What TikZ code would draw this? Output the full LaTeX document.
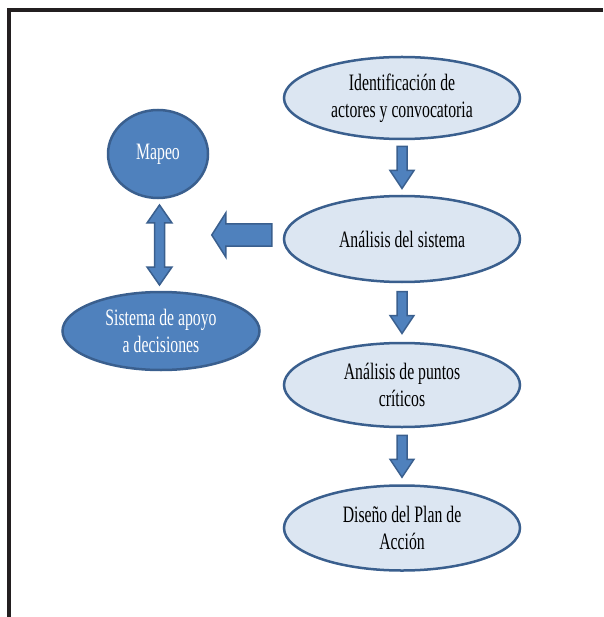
\documentclass[tikz,border=0pt]{standalone}
\usepackage{fontspec}
\setmainfont[FakeStretch=0.67]{Liberation Serif}
\usetikzlibrary{shapes.geometric,shapes.arrows,calc}
\definecolor{lightfill}{HTML}{DCE6F2}
\definecolor{edgeblue}{HTML}{3A5F8E}
\definecolor{darkfill}{HTML}{4F81BD}
\definecolor{framegray}{HTML}{231F20}
\tikzset{
  lightell/.style={ellipse, draw=edgeblue, fill=lightfill, line width=2.5pt,
    inner sep=0pt, align=center, font=\fontsize{23.5}{27}\selectfont, text=black},
  darkell/.style={ellipse, draw=edgeblue, fill=darkfill, line width=2.5pt,
    inner sep=0pt, align=center, font=\fontsize{23.5}{27}\selectfont, text=white},
  blockarrow/.style={draw=edgeblue, fill=darkfill, line width=1.5pt, line join=miter}
}
\begin{document}
\begin{tikzpicture}[x=1pt,y=-1pt]
\useasboundingbox (0,0) rectangle (603,617);
\draw[framegray, line width=4pt] (9,617) -- (9,10) -- (603,10);

\node[lightell, minimum width=236, minimum height=82] (ident) at (402,98) {Identificación de\\actores y convocatoria};
\node[lightell, minimum width=236, minimum height=86] (anal) at (402,239) {Análisis del sistema};
\node[lightell, minimum width=236, minimum height=84] (puntos) at (402,385) {Análisis de puntos\\críticos};
\node[lightell, minimum width=236, minimum height=85] (diseno) at (402,528) {Diseño del Plan de\\Acción};
\node[darkell, minimum width=100, minimum height=88] (mapeo) at (158,154) {Mapeo};
\node[darkell, minimum width=197, minimum height=78] (sistema) at (161,331) {Sistema de apoyo\\a decisiones};

% down arrows
\coordinate (d1) at ($(ident.south)!0.5!(anal.north)$);
\coordinate (d2) at ($(anal.south)!0.5!(puntos.north)$);
\coordinate (d3) at ($(puntos.south)!0.5!(diseno.north)$);
\foreach \c in {d1,d2,d3}{
  \draw[blockarrow] ($(\c)+(-5,-21)$) -- ($(\c)+(5,-21)$) -- ($(\c)+(5,3)$) -- ($(\c)+(12,3)$)
    -- ($(\c)+(0,21)$) -- ($(\c)+(-12,3)$) -- ($(\c)+(-5,3)$) -- cycle;
}
% left arrow
\coordinate (l1) at ($(anal.west)+(-41,-4)$);
\draw[blockarrow] ($(l1)+(30,-11)$) -- ($(l1)+(30,11)$) -- ($(l1)+(-16,11)$) -- ($(l1)+(-16,22)$)
  -- ($(l1)+(-30,0)$) -- ($(l1)+(-16,-22)$) -- ($(l1)+(-16,-11)$) -- cycle;
% double arrow
\coordinate (v1) at ($(mapeo.south)!0.5!(sistema.north)$);
\draw[blockarrow] ($(v1)+(0,-40)$) -- ($(v1)+(12.5,-22)$) -- ($(v1)+(5,-22)$) -- ($(v1)+(5,22)$)
  -- ($(v1)+(12.5,22)$) -- ($(v1)+(0,40)$) -- ($(v1)+(-12.5,22)$) -- ($(v1)+(-5,22)$)
  -- ($(v1)+(-5,-22)$) -- ($(v1)+(-12.5,-22)$) -- cycle;
\end{tikzpicture}
\end{document}
